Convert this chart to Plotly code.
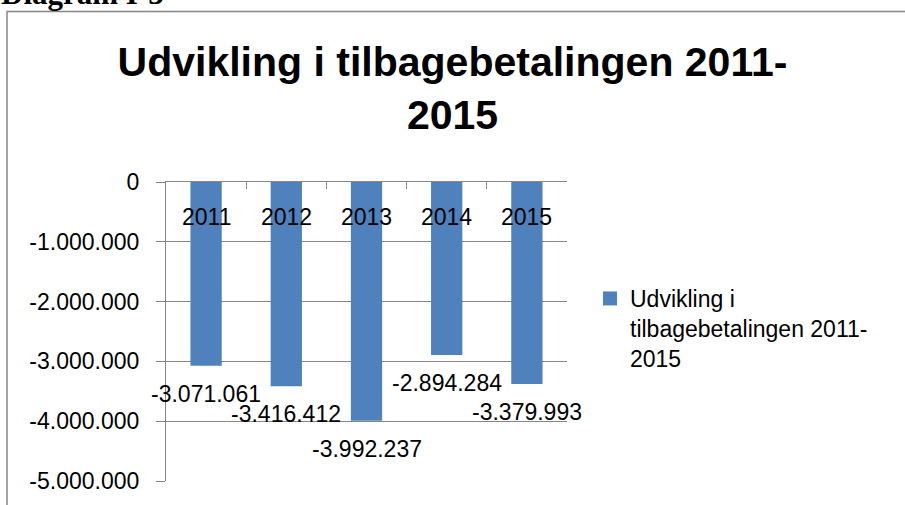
import plotly.graph_objects as go

categories = ["2011", "2012", "2013", "2014", "2015"]
values = [-3071061, -3416412, -3992237, -2894284, -3379993]
series_name = "Udvikling i tilbagebetalingen 2011-2015"
legend_label = "Udvikling i<br>tilbagebetalingen 2011-<br>2015"
y_tick_vals = [0, -1000000, -2000000, -3000000, -4000000, -5000000]
y_tick_text = ["0", "-1.000.000", "-2.000.000", "-3.000.000", "-4.000.000", "-5.000.000"]
title_text = "Udvikling i tilbagebetalingen 2011-<br>2015"
heading_text = "Diagram I-3"

def fmt(v):
    return f"{v:,}".replace(",", ".")

W, H = 905, 505
L, R, T, B = 166, 567, 182, 481          # plot area in pixels
pw, ph = R - L, B - T

def px_x(p):
    return (p - L) / pw

def px_y(p):
    return (B - p) / ph

GRAY = "#868686"
BLUE = "#4F81BD"
FONT = "Liberation Sans, Arial, sans-serif"

n = len(categories)
boundaries = [i - 0.5 for i in range(n + 1)]

fig = go.Figure()
fig.add_trace(go.Bar(
    x=categories, y=values, name=series_name,
    marker=dict(color=BLUE, line=dict(width=0)),
    showlegend=False,
))
# legend entry with a larger square swatch; also carries the top boundary axis
fig.add_trace(go.Scatter(
    x=[None], y=[None], mode="markers", name=legend_label,
    marker=dict(symbol="square", size=14, color=BLUE),
    showlegend=True, hoverinfo="skip", xaxis="x2", yaxis="y",
))

annotations = []
for i, (c, v) in enumerate(zip(categories, values)):
    annotations.append(dict(
        x=i, y=v, xref="x", yref="y", text=fmt(v), showarrow=False,
        yanchor="middle", xanchor="center", yshift=-28,
        font=dict(family=FONT, size=23, color="black"),
    ))
    annotations.append(dict(
        x=i, y=0, xref="x", yref="y", text=c, showarrow=False,
        yanchor="middle", xanchor="center", yshift=-35,
        font=dict(family=FONT, size=23, color="black"),
    ))
annotations.append(dict(
    x=px_x(-1), y=px_y(13), xref="paper", yref="paper", text="<b>" + heading_text + "</b>",
    showarrow=False, xanchor="left", yanchor="bottom",
    font=dict(family="Liberation Serif, Times New Roman, serif", size=31, color="black"),
))

fig.update_layout(
    width=W, height=H,
    margin=dict(l=L, r=W - R, t=T, b=H - B, autoexpand=False),
    paper_bgcolor="white", plot_bgcolor="white",
    font=dict(family=FONT, size=23, color="black"),
    title=dict(
        text="<b>" + title_text + "</b>",
        x=0.5, xref="container", xanchor="center",
        y=1 - 76 / H, yref="container", yanchor="top",
        font=dict(family=FONT, size=41, color="black"),
    ),
    bargap=0.61,
    showlegend=True,
    legend=dict(
        x=px_x(590), y=px_y(277), xanchor="left", yanchor="top",
        xref="paper", yref="paper", valign="top",
        font=dict(family=FONT, size=23, color="black"),
        bgcolor="rgba(0,0,0,0)",
    ),
    annotations=annotations,
    shapes=[dict(
        type="rect", xref="paper", yref="paper",
        x0=px_x(7), x1=px_x(920), y0=px_y(520), y1=px_y(11.5),
        line=dict(color=GRAY, width=1.5), layer="below",
    )],
    xaxis=dict(
        type="category", visible=False, range=[-0.5, n - 0.5],
        showgrid=False, zeroline=False, automargin=False,
    ),
    xaxis2=dict(
        type="linear", overlaying="x", side="top", anchor="y",
        range=[-0.5, n - 0.5], tickvals=boundaries,
        showline=True, linecolor=GRAY, linewidth=1.2,
        ticks="inside", ticklen=7, tickcolor=GRAY, tickwidth=1.2,
        showticklabels=False, showgrid=False, zeroline=False, automargin=False,
    ),
    yaxis=dict(
        range=[-5000000, 0], tickvals=y_tick_vals, ticktext=y_tick_text,
        showline=True, linecolor=GRAY, linewidth=1.2,
        ticks="outside", ticklen=9, tickcolor=GRAY, tickwidth=1.2, automargin=False,
        showgrid=True, gridcolor=GRAY, gridwidth=1.2, zeroline=False,
        ticklabelstandoff=12,
        tickfont=dict(family=FONT, size=23, color="black"),
    ),
)

# remove the browser's default 8px body margin so the figure sits at the page origin
fig.write_html(
    "out.html",
    config={"displayModeBar": False},
    post_script="document.body.style.margin='0px';",
)
